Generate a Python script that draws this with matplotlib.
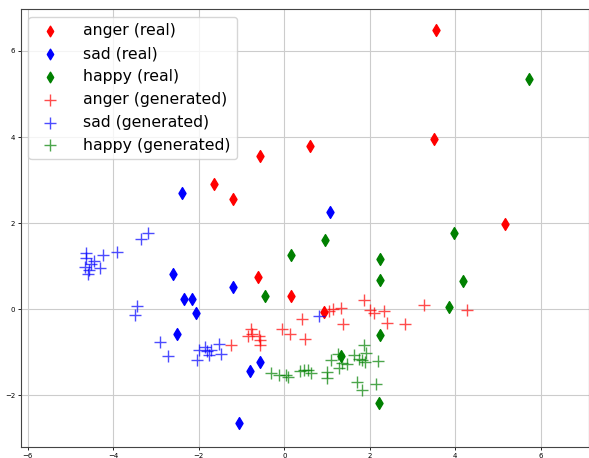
import matplotlib
matplotlib.use("Agg")
import matplotlib.pyplot as plt

# anger (real)
anger_real_x = [3.55, 3.50, 0.60, -0.58, -1.64, -1.20, 5.16, -0.62, 0.15, 0.93]
anger_real_y = [6.49, 3.95, 3.80, 3.57, 2.92, 2.57, 1.99, 0.74, 0.30, -0.07]

# sad (real)
sad_real_x = [-2.40, 1.07, -2.61, -1.20, -2.34, -2.16, -2.06, -2.50, -0.56, -0.80, -1.06]
sad_real_y = [2.70, 2.26, 0.81, 0.52, 0.23, 0.23, -0.08, -0.57, -1.22, -1.44, -2.64]

# happy (real)
happy_real_x = [5.73, 3.98, 0.96, 0.15, 2.25, 4.17, 2.25, -0.46, 3.86, 2.25, 1.32, 2.22]
happy_real_y = [5.34, 1.76, 1.60, 1.26, 1.16, 0.65, 0.67, 0.30, 0.05, -0.59, -1.09, -2.18]

# anger (generated)
anger_gen_x = [-1.24, -0.78, -0.86, -0.76, -0.60, -0.56, -0.56, -0.05, 0.14, 0.42, 0.49,
               1.05, 1.15, 1.33, 1.37, 1.87, 2.01, 2.11, 2.34, 2.40, 2.83, 3.26, 4.28]
anger_gen_y = [-0.84, -0.47, -0.61, -0.57, -0.63, -0.72, -0.84, -0.45, -0.58, -0.22, -0.70,
               -0.04, 0.00, 0.04, -0.35, 0.21, -0.01, -0.09, -0.05, -0.31, -0.35, 0.09, -0.02]

# sad (generated)
sad_gen_x = [-3.18, -3.36, -3.92, -4.25, -4.65, -4.63, -4.46, -4.53, -4.32, -4.67, -4.57, -4.60,
             -3.44, -3.49, -2.92, -2.72, -2.04, -1.99, -1.85, -1.81, -1.77, -1.71, -1.52, -1.49, 0.82]
sad_gen_y = [1.77, 1.64, 1.32, 1.25, 1.30, 1.19, 1.12, 1.06, 0.96, 0.98, 0.91, 0.81,
             0.08, -0.14, -0.77, -1.09, -1.18, -0.95, -0.88, -0.98, -1.07, -0.95, -0.80, -1.05, -0.15]

# happy (generated)
happy_gen_x = [-0.31, -0.12, 0.05, 0.09, 0.36, 0.47, 0.56, 0.63, 1.00, 1.00, 1.10, 1.25,
               1.29, 1.35, 1.46, 1.64, 1.74, 1.82, 1.87, 1.92, 1.89, 2.19, 1.71, 1.82, 2.15]
happy_gen_y = [-1.48, -1.53, -1.53, -1.57, -1.43, -1.40, -1.42, -1.48, -1.46, -1.59, -1.19, -1.03,
               -1.36, -1.25, -1.28, -1.07, -1.16, -1.19, -0.84, -1.02, -1.23, -1.20, -1.69, -1.88, -1.73]

fig = plt.figure(figsize=(5.89, 4.58), dpi=100)
ax = fig.add_axes([0.035, 0.024, 0.965, 0.956])

ax.scatter(anger_real_x, anger_real_y, marker='d', s=36, c='red', label='anger (real)', zorder=3)
ax.scatter(sad_real_x, sad_real_y, marker='d', s=36, c='blue', label='sad (real)', zorder=3)
ax.scatter(happy_real_x, happy_real_y, marker='d', s=36, c='green', label='happy (real)', zorder=3)
ax.scatter(anger_gen_x, anger_gen_y, marker='+', s=80, c='red', alpha=0.7, linewidths=1,
           label='anger (generated)', zorder=3)
ax.scatter(sad_gen_x, sad_gen_y, marker='+', s=80, c='blue', alpha=0.7, linewidths=1,
           label='sad (generated)', zorder=3)
ax.scatter(happy_gen_x, happy_gen_y, marker='+', s=80, c='green', alpha=0.7, linewidths=1,
           label='happy (generated)', zorder=3)

ax.set_xlim(-6.17, 7.13)
ax.set_ylim(-3.2, 6.97)
ax.set_xticks([-6, -4, -2, 0, 2, 4, 6])
ax.set_yticks([-2, 0, 2, 4, 6])
ax.tick_params(labelsize=5, length=2.5, width=0.6, pad=1.5)
ax.grid(True, color='#cccccc', linewidth=0.8)
ax.set_axisbelow(True)
for sp in ax.spines.values():
    sp.set_color('#444444')
    sp.set_linewidth(0.8)

ax.legend(loc='upper left', fontsize=11.3, scatterpoints=1, handletextpad=1.1,
          markerscale=0.9)

fig.savefig('out.png', dpi=100)
